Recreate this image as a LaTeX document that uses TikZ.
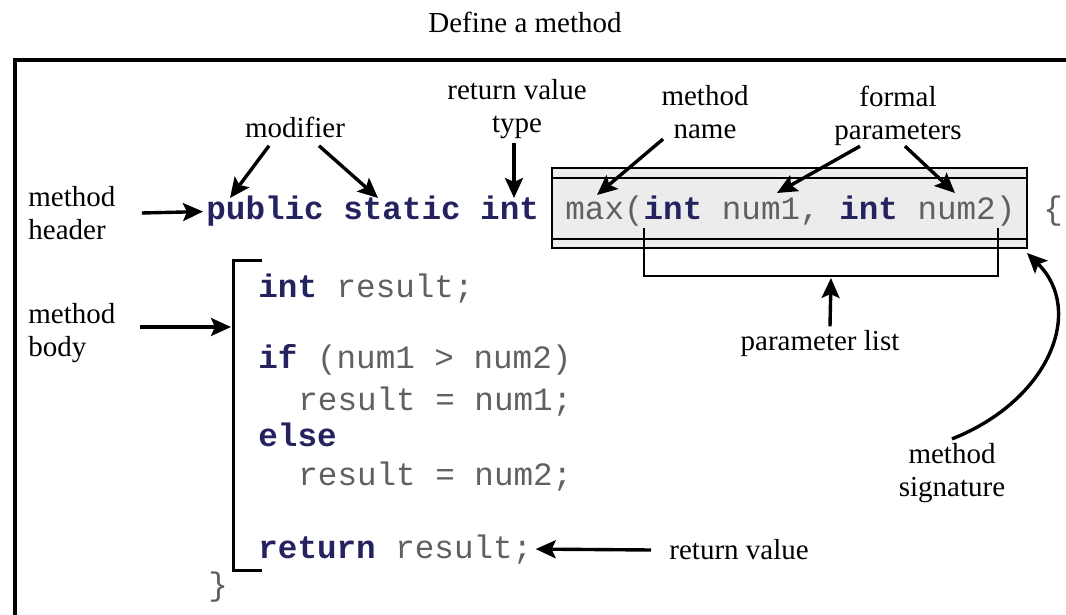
\documentclass[tikz,border=0pt]{standalone}
\usepackage{fontspec}
\setmainfont{Liberation Serif}
\setmonofont{Liberation Mono}
\usetikzlibrary{arrows.meta}

\definecolor{kwblue}{HTML}{25235F}
\definecolor{codegray}{HTML}{606060}
\definecolor{sigfill}{HTML}{ECECEC}
\newcommand\kw[1]{\textcolor{kwblue}{\bfseries #1}}

\tikzset{
  lbl/.style={font=\fontsize{14.5}{16.5}\selectfont, align=center, inner sep=2pt},
  code/.style={font=\fontsize{16.3}{18}\selectfont\ttfamily, text=codegray, inner sep=1.5pt, anchor=base west},
  arr/.style={-{Stealth[length=10pt,width=9pt,inset=2pt]}, line width=1.7pt},
}

\begin{document}
\begin{tikzpicture}[x=0.5pt,y=-0.5pt]
\useasboundingbox (0,0) rectangle (1066,615);

% frame and signature box
\draw[line width=1.8pt] (15,615) -- (15,60) -- (1066,60);
\draw[line width=1pt, fill=sigfill] (552,168) rectangle (1027,248);
\draw[line width=1pt] (552,178) -- (1027,178) (552,239) -- (1027,239);

% method header
\node[code] (hdr) at (203,220) {\kw{public static int}};
\node[code] (sig) at (562,220) {max(\kw{int} num1, \kw{int} num2)};
\node[code] (brace) at (1040,220) {\{};

% method body
\node[code] (l1) at (255,297) {\kw{int} result;};
\node[code] (l2) at (255,368) {\kw{if} (num1 > num2)};
\node[code] (l3) at (295,410) {result = num1;};
\node[code] (l4) at (255,446) {\kw{else}};
\node[code] (l5) at (295,485) {result = num2;};
\node[code] (ret) at (255,558) {\kw{return} result;};
\node[code] (close) at (205,595) {\}};

% brackets
\draw[line width=1.5pt] (262,260) -- (233,260) -- (233,570) -- (262,570);
\draw[line width=1pt] (644,228) -- (644,276) -- (998,276) -- (998,228);

% labels
\node[lbl] (title) at (525,22) {Define a method};
\node[lbl] (modifier) at (295,127) {modifier};
\node[lbl] (rettype) at (517,109) {return value\\type};
\node[lbl] (mname) at (705,112) {method\\name};
\node[lbl] (fparams) at (898,116) {formal\\parameters};
\node[lbl, anchor=west, align=left] (mheader) at (24,213) {method\\header};
\node[lbl, anchor=west, align=left] (mbody) at (24,333) {method\\body};
\node[lbl] (plist) at (820,344) {parameter list};
\node[lbl] (msig) at (952,473) {method\\signature};
\node[lbl, anchor=west] (retval) at (665,550) {return value};

% arrow ends
\coordinate (pub) at (230,198);
\coordinate (stat) at (378,198);
\coordinate (inttip) at (514,198);
\coordinate (maxtip) at (597,195);
\coordinate (num1tip) at (777,193);
\coordinate (num2tip) at (955,193);
\coordinate (bodyin) at (231,327);
\coordinate (pltip) at (831,278);
\coordinate (sigtip) at (1027,253);

% arrows
\draw[arr] ([xshift=11pt]mheader.east) -- (hdr.west);
\draw[arr] ([xshift=10pt,yshift=3pt]mbody.east) -- (bodyin);
\draw[arr] ([xshift=-13pt,yshift=-2pt]modifier.south) -- (pub);
\draw[arr] ([xshift=12pt,yshift=-2pt]modifier.south) -- (stat);
\draw[arr] ([xshift=-1.5pt]rettype.south) -- (inttip);
\draw[arr] ([xshift=-21pt,yshift=2pt]mname.south) -- (maxtip);
\draw[arr] ([xshift=-19pt,yshift=2pt]fparams.south) -- (num1tip);
\draw[arr] ([xshift=3.5pt,yshift=2pt]fparams.south) -- (num2tip);
\draw[arr] ([xshift=5pt]plist.north) -- (pltip);
\draw[arr] (msig.north) .. controls (1050,400) and (1085,310) .. (sigtip);
\draw[arr] ([xshift=-7pt]retval.west) -- (ret.east);
\end{tikzpicture}
\end{document}
